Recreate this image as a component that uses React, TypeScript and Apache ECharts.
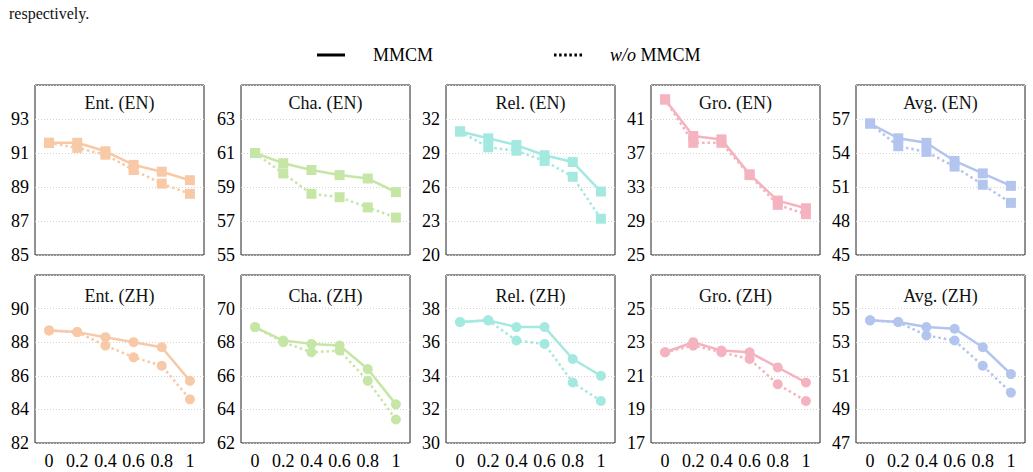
import React, { useEffect, useRef } from "react";
import * as echarts from "echarts";

const xLabels = ["0", "0.2", "0.4", "0.6", "0.8", "1"];

const titles = [
  "Ent. (EN)", "Cha. (EN)", "Rel. (EN)", "Gro. (EN)", "Avg. (EN)",
  "Ent. (ZH)", "Cha. (ZH)", "Rel. (ZH)", "Gro. (ZH)", "Avg. (ZH)",
];

const colors = ["#F8C9A6", "#C6E6A6", "#A3E9E0", "#F4B3BE", "#B3C5EE"];

// y-axis lower bound and tick step per panel
const yMins = [85, 55, 20, 25, 45, 82, 62, 30, 17, 47];
const ySteps = [2, 2, 3, 4, 3, 2, 2, 2, 2, 2];

// MMCM values
const entEN = [91.6, 91.6, 91.1, 90.3, 89.9, 89.4];
const chaEN = [61.0, 60.4, 60.0, 59.7, 59.5, 58.7];
const relEN = [30.9, 30.3, 29.7, 28.8, 28.2, 25.6];
const groEN = [43.3, 39.0, 38.6, 34.5, 31.4, 30.5];
const avgEN = [56.6, 55.3, 54.9, 53.3, 52.2, 51.1];
const entZH = [88.7, 88.6, 88.3, 88.0, 87.7, 85.7];
const chaZH = [68.9, 68.1, 67.9, 67.8, 66.4, 64.3];
const relZH = [37.2, 37.3, 36.9, 36.9, 35.0, 34.0];
const groZH = [22.4, 23.0, 22.5, 22.4, 21.5, 20.6];
const avgZH = [54.3, 54.2, 53.9, 53.8, 52.7, 51.1];

// w/o MMCM values
const entENwo = [91.6, 91.3, 90.9, 90.0, 89.2, 88.6];
const chaENwo = [61.0, 59.8, 58.6, 58.4, 57.8, 57.2];
const relENwo = [30.9, 29.5, 29.2, 28.3, 26.9, 23.2];
const groENwo = [43.3, 38.2, 38.2, 34.4, 30.9, 29.8];
const avgENwo = [56.6, 54.6, 54.1, 52.8, 51.2, 49.6];
const entZHwo = [88.7, 88.6, 87.8, 87.1, 86.6, 84.6];
const chaZHwo = [68.9, 68.0, 67.4, 67.5, 65.7, 63.4];
const relZHwo = [37.2, 37.3, 36.1, 35.9, 33.6, 32.5];
const groZHwo = [22.4, 22.8, 22.4, 22.0, 20.5, 19.5];
const avgZHwo = [54.3, 54.2, 53.4, 53.1, 51.6, 50.0];

const withList = [entEN, chaEN, relEN, groEN, avgEN, entZH, chaZH, relZH, groZH, avgZH];
const woList = [entENwo, chaENwo, relENwo, groENwo, avgENwo, entZHwo, chaZHwo, relZHwo, groZHwo, avgZHwo];

const FONT = "'Liberation Serif', 'Times New Roman', serif";

// legend icons: solid bar and six dots
const SOLID_ICON = "path://M0,0H28V3H0Z";
const DOTTED_ICON =
  "path://" +
  [0, 1, 2, 3, 4, 5]
    .map((k) => `M${(k * 5.1).toFixed(1)},0h2.5v3h-2.5Z`)
    .join("");

export default function App() {
  const ref = useRef<HTMLDivElement>(null);

  useEffect(() => {
    if (!ref.current) return;
    const chart = echarts.init(ref.current, undefined, { renderer: "svg" });

    const lefts = [35, 241, 446, 651, 856];
    const tops = [85, 275];
    const heights = [170, 168];
    const width = 169;

    const grid: any[] = [];
    const xAxis: any[] = [];
    const yAxis: any[] = [];
    const series: any[] = [];
    const graphic: any[] = [];

    for (let i = 0; i < 10; i++) {
      const row = Math.floor(i / 5);
      const col = i % 5;
      const min = yMins[i];
      const step = ySteps[i];
      grid.push({
        left: lefts[col],
        top: tops[row],
        width,
        height: heights[row],
        show: true,
        borderColor: "#222",
        borderWidth: 1,
        backgroundColor: "transparent",
        containLabel: false,
      });
      xAxis.push({
        type: "category",
        gridIndex: i,
        data: xLabels,
        boundaryGap: true,
        axisLine: { show: false },
        axisTick: { show: false },
        splitLine: { show: false },
        axisLabel: {
          show: row === 1,
          interval: 0,
          margin: 9,
          fontSize: 18,
          fontFamily: FONT,
          color: "#000",
        },
      });
      yAxis.push({
        type: "value",
        gridIndex: i,
        min: 0,
        max: 5 * step,
        interval: step,
        axisLine: { show: false },
        axisTick: { show: false },
        splitLine: {
          show: true,
          lineStyle: { color: "#d4d4d4", width: 1, type: [1, 2] },
        },
        axisLabel: {
          showMaxLabel: false,
          margin: 6,
          fontSize: 18,
          fontFamily: FONT,
          color: "#000",
          formatter: (v: number) => String(Math.round(v + min)),
        },
      });
      const symbol = row === 0 ? "rect" : "circle";
      series.push({
        name: "w/o MMCM (" + titles[i] + ")",
        type: "line",
        xAxisIndex: i,
        yAxisIndex: i,
        data: woList[i].map((v) => +(v - min).toFixed(3)),
        symbol,
        symbolSize: 10,
        color: colors[col],
        lineStyle: { color: colors[col], width: 2.5, type: [2.5, 3] },
        itemStyle: { color: colors[col] },
        z: 2,
      });
      series.push({
        name: "MMCM (" + titles[i] + ")",
        type: "line",
        xAxisIndex: i,
        yAxisIndex: i,
        data: withList[i].map((v) => +(v - min).toFixed(3)),
        symbol,
        symbolSize: 10,
        color: colors[col],
        lineStyle: { color: colors[col], width: 2.5, type: "solid" },
        itemStyle: { color: colors[col] },
        z: 3,
      });
      graphic.push({
        type: "text",
        x: lefts[col] + width / 2,
        y: row === 0 ? 103 : 296,
        style: {
          text: titles[i],
          fontSize: 18,
          fontFamily: FONT,
          fill: "#111",
          textAlign: "center",
          textVerticalAlign: "middle",
        },
      });
    }

    // legend-only series
    series.push({
      name: "MMCM",
      type: "line",
      xAxisIndex: 0,
      yAxisIndex: 0,
      data: [],
      symbol: "none",
      color: "#000",
      lineStyle: { color: "#000", width: 2.5, type: "solid" },
    });
    series.push({
      name: "w/o MMCM",
      type: "line",
      xAxisIndex: 0,
      yAxisIndex: 0,
      data: [],
      symbol: "none",
      color: "#000",
      lineStyle: { color: "#000", width: 2.5, type: [2.5, 2.5] },
    });

    graphic.push({
      type: "text",
      x: 9,
      y: 13,
      style: {
        text: "respectively.",
        fontSize: 16,
        fontFamily: FONT,
        fill: "#111",
        textAlign: "left",
        textVerticalAlign: "middle",
      },
    });

    chart.setOption({
      animation: false,
      backgroundColor: "#fff",
      grid,
      xAxis,
      yAxis,
      series,
      graphic,
      legend: {
        data: [
          { name: "MMCM", icon: SOLID_ICON },
          { name: "w/o MMCM", icon: DOTTED_ICON },
        ],
        left: 317,
        top: 46,
        padding: 0,
        itemWidth: 28,
        itemHeight: 3,
        itemGap: 121,
        itemStyle: { color: "#000", borderWidth: 0 },
        lineStyle: { width: 0 },
        textStyle: {
          fontSize: 18,
          fontFamily: FONT,
          color: "#000",
          padding: [0, 0, 0, 23],
          rich: {
            i: { fontStyle: "italic", fontSize: 18, fontFamily: FONT, color: "#000" },
            n: { fontSize: 18, fontFamily: FONT, color: "#000" },
          },
        },
        formatter: (name: string) =>
          name === "w/o MMCM" ? "{i|w/o} {n|MMCM}" : "{n|MMCM}",
        selectedMode: false,
      },
    });

    return () => chart.dispose();
  }, []);

  return (
    <div
      ref={ref}
      style={{ position: "absolute", left: 0, top: 0, width: 1033, height: 472 }}
    />
  );
}
